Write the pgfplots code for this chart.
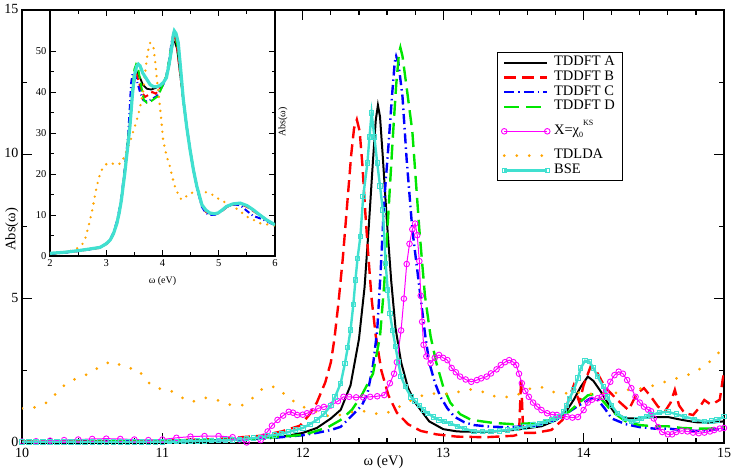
\documentclass[border=0pt]{standalone}
\usepackage{fontspec}
\setmainfont{Liberation Serif}
\usepackage{pgfplots}
\pgfplotsset{compat=1.18}
\definecolor{xred}{RGB}{255,0,0}
\definecolor{xblue}{RGB}{0,0,255}
\definecolor{xgreen}{RGB}{0,230,0}
\definecolor{xmag}{RGB}{255,0,255}
\definecolor{xorange}{RGB}{255,165,0}
\definecolor{xturq}{RGB}{64,224,208}
\begin{document}
\begin{tikzpicture}
\useasboundingbox (-22pt,-25pt) rectangle (711pt,443pt);
\begin{axis}[
 at={(0pt,0pt)}, anchor=south west,
 scale only axis, width=702pt, height=433pt,
 xmin=10, xmax=15, ymin=0, ymax=15,
 xtick={10,...,15}, ytick={0,5,10,15},
 minor x tick num=4, minor y tick num=1,
 tick align=inside, xtick pos=both, ytick pos=both,
 major tick length=10pt, minor tick length=5pt,
 axis line style={line width=1.6pt},
 tick style={line width=1.2pt,black},
 /pgf/number format/assume math mode=true,
 tick label style={font=\fontsize{14}{14}\selectfont},
 xticklabel style={yshift=-2pt},
 yticklabel style={yshift=1pt},
 xlabel={ω (eV)}, ylabel={Abs(ω)},
 label style={font=\fontsize{14.5}{14.5}\selectfont},
 xlabel style={at={(axis description cs:0.515,0)}, anchor=north, yshift=-9pt},
 ylabel style={at={(axis description cs:0,0.503)}, anchor=south, xshift=-4pt},
 legend style={at={(axis description cs:0.6766,0.903)}, anchor=north west, draw=black, line width=1pt, fill=white,
   font=\fontsize{14.5}{14.5}\selectfont, inner xsep=4pt, inner ysep=3pt, row sep=0pt,
   nodes={inner ysep=0pt, inner xsep=4pt, text height=10.3pt, text depth=4.4pt}},
 legend cell align=left,
 legend image code/.code={\draw[mark repeat=1,mark phase=1,#1] plot coordinates {(0pt,0pt) (43pt,0pt)};},
]
\addplot[black, line width=2pt] coordinates {(10.0,0.04)(10.5,0.05)(11.0,0.07)(11.4,0.10)(11.7,0.16)(11.9,0.26)(12.0,0.35)(12.1,0.52)(12.2,0.85)(12.27,1.15)(12.34,2.0)(12.4,3.6)(12.44,5.4)(12.47,7.5)(12.5,9.8)(12.52,11.2)(12.535,11.7)(12.55,11.3)(12.57,9.9)(12.6,7.6)(12.63,5.6)(12.66,4.0)(12.7,2.8)(12.75,1.9)(12.8,1.4)(12.9,0.75)(13.0,0.48)(13.1,0.4)(13.3,0.38)(13.5,0.45)(13.7,0.58)(13.8,0.78)(13.87,1.05)(13.93,1.5)(13.98,1.95)(14.03,2.3)(14.07,2.15)(14.12,1.8)(14.17,1.4)(14.22,1.05)(14.3,0.85)(14.4,0.85)(14.5,0.9)(14.6,0.9)(14.7,0.8)(14.8,0.72)(14.9,0.7)(15.0,0.75)};
\addlegendentry{TDDFT A}
\addplot[xred, line width=2.4pt, dash pattern=on 12pt off 6pt] coordinates {(10.0,0.05)(10.5,0.06)(11.0,0.08)(11.4,0.14)(11.7,0.25)(11.85,0.4)(11.98,0.6)(12.05,1.0)(12.1,1.4)(12.16,2.1)(12.2,2.8)(12.225,3.6)(12.255,4.9)(12.285,6.4)(12.305,7.6)(12.325,8.8)(12.345,10.0)(12.365,10.9)(12.385,11.2)(12.405,10.8)(12.425,9.6)(12.445,8.0)(12.465,6.6)(12.49,5.0)(12.52,3.7)(12.56,2.5)(12.61,1.65)(12.67,1.05)(12.75,0.65)(12.84,0.42)(12.95,0.3)(13.1,0.22)(13.3,0.2)(13.5,0.25)(13.54,0.3)(13.555,2.25)(13.57,0.35)(13.65,0.35)(13.77,0.45)(13.85,0.8)(13.9,1.6)(13.93,2.0)(13.97,1.4)(14.0,2.0)(14.05,2.65)(14.09,2.5)(14.15,1.95)(14.24,1.49)(14.32,1.14)(14.38,1.72)(14.43,1.9)(14.48,1.6)(14.53,1.26)(14.58,1.1)(14.62,1.4)(14.65,1.84)(14.68,1.3)(14.72,1.03)(14.78,0.97)(14.82,1.2)(14.86,1.49)(14.9,1.35)(14.93,1.38)(14.97,1.5)(14.99,2.18)(15.0,2.4)};
\addlegendentry{TDDFT B}
\addplot[xblue, line width=2.4pt, dash pattern=on 10pt off 4pt on 1.5pt off 4pt] coordinates {(10.0,0.03)(10.5,0.04)(11.0,0.06)(11.5,0.1)(11.8,0.18)(12.0,0.27)(12.1,0.35)(12.2,0.45)(12.27,0.56)(12.36,1.0)(12.42,1.3)(12.46,1.7)(12.5,2.7)(12.53,3.9)(12.555,6.0)(12.58,8.4)(12.61,10.3)(12.635,12.0)(12.655,13.2)(12.665,13.4)(12.68,13.2)(12.71,12.0)(12.74,9.8)(12.78,7.4)(12.81,6.2)(12.84,5.0)(12.87,3.8)(12.9,2.8)(12.94,2.1)(12.98,1.6)(13.03,1.2)(13.08,0.91)(13.15,0.72)(13.22,0.62)(13.35,0.56)(13.46,0.55)(13.6,0.58)(13.69,0.62)(13.8,0.8)(13.88,1.03)(13.95,1.25)(14.0,1.4)(14.05,1.55)(14.1,1.5)(14.15,1.2)(14.2,0.85)(14.3,0.65)(14.4,0.55)(14.5,0.5)(14.6,0.5)(14.7,0.45)(14.8,0.42)(14.9,0.45)(15.0,0.5)};
\addlegendentry{TDDFT C}
\addplot[xgreen, line width=2.4pt, dash pattern=on 15pt off 7pt] coordinates {(10.0,0.04)(10.5,0.05)(11.0,0.07)(11.5,0.11)(11.8,0.2)(12.0,0.28)(12.08,0.39)(12.18,0.55)(12.27,0.8)(12.35,1.15)(12.42,1.66)(12.5,2.4)(12.55,3.7)(12.58,5.5)(12.61,8.0)(12.64,10.5)(12.665,12.4)(12.685,13.5)(12.695,13.7)(12.71,13.4)(12.74,12.3)(12.78,10.8)(12.83,7.4)(12.87,5.1)(12.91,3.7)(12.95,2.8)(13.0,1.95)(13.05,1.4)(13.12,1.0)(13.2,0.8)(13.35,0.7)(13.5,0.65)(13.69,0.7)(13.8,0.85)(13.9,1.1)(13.97,1.4)(14.03,1.65)(14.08,1.7)(14.13,1.5)(14.2,1.1)(14.3,0.75)(14.4,0.62)(14.5,0.58)(14.6,0.58)(14.7,0.52)(14.8,0.5)(14.9,0.5)(15.0,0.55)};
\addlegendentry{TDDFT D}
\addplot[xmag, line width=1pt, mark=o, mark size=2.8pt, mark options={solid, line width=0.9pt}] coordinates {(10.0,0.05)(10.1,0.06)(10.2,0.08)(10.3,0.1)(10.4,0.12)(10.5,0.14)(10.6,0.15)(10.7,0.14)(10.8,0.12)(10.9,0.1)(11.0,0.12)(11.1,0.18)(11.2,0.22)(11.3,0.24)(11.4,0.24)(11.5,0.2)(11.55,0.12)(11.6,0.02)(11.65,-0.07)(11.68,-0.05)(11.7,0.1)(11.72,0.22)(11.75,0.4)(11.78,0.6)(11.82,0.8)(11.86,0.95)(11.9,1.08)(11.93,1.05)(11.96,0.97)(12.0,0.98)(12.03,1.03)(12.07,1.1)(12.11,1.2)(12.15,1.25)(12.2,1.3)(12.25,1.45)(12.29,1.6)(12.33,1.6)(12.38,1.58)(12.43,1.58)(12.48,1.6)(12.53,1.62)(12.58,1.66)(12.62,2.07)(12.65,2.4)(12.67,2.8)(12.7,3.9)(12.72,5.0)(12.74,6.2)(12.76,6.9)(12.78,7.4)(12.8,7.6)(12.815,7.2)(12.83,6.3)(12.84,5.1)(12.85,4.2)(12.86,3.4)(12.88,3.0)(12.91,2.76)(12.94,2.95)(12.97,3.05)(13.0,2.95)(13.03,2.87)(13.06,2.6)(13.09,2.45)(13.12,2.3)(13.16,2.2)(13.2,2.12)(13.24,2.18)(13.27,2.24)(13.31,2.3)(13.34,2.41)(13.38,2.55)(13.41,2.7)(13.44,2.8)(13.47,2.87)(13.5,2.8)(13.52,2.7)(13.54,2.4)(13.56,2.07)(13.585,1.8)(13.61,1.6)(13.64,1.4)(13.67,1.26)(13.7,1.14)(13.74,1.03)(13.78,0.98)(13.81,0.97)(13.85,0.93)(13.88,0.91)(13.92,0.88)(13.96,0.9)(14.0,1.14)(14.03,1.4)(14.06,1.5)(14.1,1.55)(14.13,1.6)(14.16,1.8)(14.19,2.12)(14.22,2.35)(14.25,2.47)(14.28,2.4)(14.31,2.18)(14.34,1.9)(14.37,1.6)(14.4,1.4)(14.43,1.26)(14.46,1.15)(14.48,1.1)(14.5,0.85)(14.53,0.55)(14.56,0.38)(14.6,0.3)(14.63,0.3)(14.66,0.38)(14.7,0.42)(14.74,0.4)(14.78,0.36)(14.82,0.34)(14.86,0.36)(14.9,0.4)(14.93,0.45)(14.97,0.5)(15.0,0.52)};
\addlegendentry[text height=20pt, text depth=14pt]{X=χ\raisebox{-3pt}{\footnotesize 0}\raisebox{8.5pt}{\footnotesize KS}}
\addplot[xorange, line width=3pt, line cap=round, dash pattern=on 0pt off 12.5pt] coordinates {(10.0,1.2)(10.1,1.24)(10.19,1.43)(10.25,1.76)(10.32,2.09)(10.41,2.28)(10.49,2.42)(10.57,2.72)(10.65,2.83)(10.73,2.62)(10.83,2.54)(10.88,2.18)(10.95,1.9)(11.05,1.84)(11.13,1.59)(11.21,1.42)(11.3,1.57)(11.39,1.49)(11.48,1.33)(11.57,1.31)(11.65,1.58)(11.72,1.92)(11.8,1.95)(11.88,1.65)(11.96,1.35)(12.05,1.15)(12.2,0.91)(12.3,1.0)(12.4,1.14)(12.48,1.05)(12.56,0.99)(12.64,1.11)(12.72,1.35)(12.8,1.55)(12.89,1.72)(12.98,1.7)(13.07,1.7)(13.16,1.86)(13.25,1.84)(13.34,1.64)(13.43,1.58)(13.52,1.64)(13.6,1.86)(13.69,1.95)(13.79,1.76)(13.88,1.72)(13.97,1.74)(14.06,1.7)(14.15,1.72)(14.24,1.74)(14.33,1.86)(14.42,1.89)(14.51,2.01)(14.6,2.15)(14.69,2.28)(14.78,2.42)(14.86,2.66)(14.93,2.95)(15.0,3.35)};
\addlegendentry{TDLDA}
\addplot[xturq, line width=2.4pt, mark=square, mark size=2.2pt, mark options={solid, line width=1pt}] coordinates {(10.0,0.03)(10.05,0.03)(10.1,0.03)(10.15,0.03)(10.2,0.03)(10.25,0.03)(10.3,0.03)(10.35,0.03)(10.4,0.03)(10.45,0.03)(10.5,0.03)(10.55,0.03)(10.6,0.03)(10.65,0.03)(10.7,0.03)(10.75,0.03)(10.8,0.03)(10.85,0.035)(10.9,0.035)(10.95,0.04)(11.0,0.04)(11.05,0.045)(11.1,0.05)(11.15,0.055)(11.2,0.06)(11.25,0.07)(11.3,0.075)(11.35,0.08)(11.4,0.09)(11.45,0.1)(11.5,0.11)(11.55,0.13)(11.6,0.15)(11.65,0.17)(11.7,0.2)(11.75,0.24)(11.8,0.28)(11.85,0.33)(11.9,0.38)(11.95,0.45)(12.0,0.52)(12.05,0.65)(12.1,0.8)(12.15,1.0)(12.2,1.3)(12.23,1.6)(12.27,2.07)(12.3,2.76)(12.32,3.3)(12.34,3.91)(12.36,4.8)(12.375,5.65)(12.39,6.4)(12.41,7.15)(12.43,8.53)(12.46,9.7)(12.475,10.6)(12.49,11.43)(12.51,10.6)(12.53,9.7)(12.55,8.9)(12.57,8.07)(12.59,6.22)(12.605,5.3)(12.62,4.49)(12.64,3.9)(12.66,3.34)(12.68,2.8)(12.7,2.3)(12.73,1.95)(12.77,1.6)(12.8,1.45)(12.83,1.3)(12.86,1.15)(12.89,1.03)(12.93,0.9)(12.97,0.8)(13.01,0.74)(13.05,0.68)(13.1,0.58)(13.15,0.5)(13.22,0.4)(13.28,0.4)(13.34,0.4)(13.4,0.42)(13.46,0.45)(13.52,0.5)(13.58,0.55)(13.64,0.62)(13.69,0.68)(13.73,0.74)(13.77,0.8)(13.8,0.85)(13.83,0.91)(13.86,1.1)(13.88,1.3)(13.9,1.55)(13.93,1.84)(13.96,2.25)(13.98,2.6)(14.01,2.85)(14.04,2.82)(14.07,2.6)(14.1,2.3)(14.14,1.95)(14.17,1.6)(14.2,1.3)(14.24,1.03)(14.29,0.85)(14.34,0.74)(14.38,0.8)(14.41,0.85)(14.45,0.92)(14.48,0.97)(14.54,1.05)(14.6,1.08)(14.66,1.0)(14.72,0.91)(14.79,0.82)(14.86,0.74)(14.91,0.76)(14.95,0.8)(15.0,0.91)};
\addlegendentry{BSE}
\end{axis}
\begin{axis}[
 at={(28pt,187pt)}, anchor=south west,
 scale only axis, width=225pt, height=246pt,
 xmin=2, xmax=6, ymin=0, ymax=60,
 xtick={2,...,6}, ytick={0,10,...,50},
 minor x tick num=1, minor y tick num=1,
 tick align=inside, xtick pos=both, ytick pos=both,
 major tick length=6pt, minor tick length=3.5pt,
 axis background/.style={fill=white},
 axis line style={line width=1.2pt},
 tick style={line width=0.9pt,black},
 /pgf/number format/assume math mode=true,
 tick label style={font=\fontsize{10.5}{10.5}\selectfont},
 xlabel={ω (eV)}, ylabel={Abs(ω)},
 label style={font=\fontsize{10}{10}\selectfont},
 xlabel style={at={(axis description cs:0.5,0)}, anchor=north, yshift=-17pt},
 ylabel style={at={(axis description cs:1,0.512)}, anchor=north, xshift=8pt},
]
\addplot[black, line width=1.8pt] coordinates {(2.0,0.6)(2.25,0.9)(2.5,1.3)(2.7,1.7)(2.89,2.1)(3.0,3.0)(3.07,3.9)(3.13,5.5)(3.19,8.0)(3.23,10.5)(3.27,13.7)(3.3,17)(3.33,20.2)(3.36,24)(3.39,27.6)(3.42,31.5)(3.44,34.9)(3.46,38.2)(3.48,41.0)(3.51,43.5)(3.55,44.7)(3.6,43.5)(3.65,41.8)(3.72,40.8)(3.8,40.6)(3.88,41.0)(3.96,41.7)(4.02,42.3)(4.07,43.6)(4.12,46.5)(4.16,50.0)(4.19,52.4)(4.22,52.2)(4.26,50.5)(4.3,46.0)(4.37,38.0)(4.43,31.5)(4.49,25.9)(4.55,21.0)(4.61,17.0)(4.66,14.5)(4.7,12.5)(4.77,11.0)(4.84,10.4)(4.92,10.2)(4.99,10.5)(5.07,11.2)(5.14,12.0)(5.25,12.6)(5.38,12.8)(5.5,12.2)(5.61,11.2)(5.73,10.0)(5.85,8.8)(6.0,7.6)};
\addplot[xred, line width=2pt, dash pattern=on 7pt off 4pt] coordinates {(2.0,0.5)(2.25,0.8)(2.5,1.2)(2.7,1.6)(2.89,2.0)(3.0,2.9)(3.07,3.8)(3.13,5.4)(3.19,7.9)(3.23,10.5)(3.27,13.8)(3.3,17.2)(3.33,20.5)(3.36,24.5)(3.39,28.2)(3.42,32.2)(3.44,35.5)(3.46,38.5)(3.48,41.5)(3.51,43.8)(3.54,44.3)(3.58,42.5)(3.63,40.0)(3.69,38.8)(3.75,39.3)(3.82,40.0)(3.88,39.6)(3.94,40.5)(4.0,42.0)(4.07,43.8)(4.12,47.2)(4.16,51.0)(4.19,53.5)(4.22,53.3)(4.26,51.0)(4.3,46.0)(4.37,38.0)(4.43,31.5)(4.49,25.9)(4.55,21.0)(4.61,17.0)(4.66,14.3)(4.7,12.3)(4.77,10.8)(4.84,10.2)(4.92,10.1)(4.99,10.4)(5.07,11.1)(5.14,11.9)(5.25,12.5)(5.38,12.7)(5.5,12.0)(5.61,11.0)(5.73,9.9)(5.85,8.7)(6.0,7.5)};
\addplot[xblue, line width=2pt, dash pattern=on 6pt off 3pt on 1pt off 3pt] coordinates {(2.0,0.5)(2.25,0.8)(2.5,1.2)(2.7,1.6)(2.89,2.1)(3.0,3.0)(3.07,4.0)(3.13,5.8)(3.19,8.5)(3.23,11.2)(3.27,14.5)(3.3,18.0)(3.33,21.5)(3.36,25.5)(3.39,29.5)(3.42,36.5)(3.44,42.0)(3.47,44.7)(3.51,44.0)(3.55,42.5)(3.6,40.0)(3.66,38.0)(3.72,37.7)(3.8,38.2)(3.9,39.0)(3.96,40.5)(4.02,42.0)(4.07,44.0)(4.12,48.0)(4.16,52.0)(4.2,54.5)(4.23,54.0)(4.27,51.5)(4.31,46.5)(4.37,38.2)(4.43,31.5)(4.49,25.9)(4.55,21.0)(4.61,16.8)(4.66,14.0)(4.7,12.0)(4.77,10.5)(4.84,10.0)(4.92,10.0)(4.99,10.4)(5.07,11.2)(5.14,12.0)(5.25,12.6)(5.38,12.4)(5.5,11.0)(5.61,9.8)(5.73,9.2)(5.85,8.5)(6.0,7.5)};
\addplot[xgreen, line width=2pt, dash pattern=on 9pt off 4pt] coordinates {(2.0,0.6)(2.25,0.9)(2.5,1.3)(2.7,1.7)(2.89,2.1)(3.0,3.0)(3.07,3.9)(3.13,5.6)(3.19,8.2)(3.23,10.8)(3.27,14.0)(3.3,17.4)(3.33,20.8)(3.36,24.8)(3.39,28.8)(3.42,32.5)(3.44,36.0)(3.47,41.5)(3.5,45.5)(3.53,46.7)(3.57,45.5)(3.62,41.5)(3.67,38.0)(3.72,37.4)(3.8,37.8)(3.92,39.0)(4.0,41.5)(4.07,44.0)(4.12,48.0)(4.16,51.5)(4.2,54.0)(4.23,53.6)(4.27,51.0)(4.31,46.0)(4.37,38.2)(4.43,31.5)(4.49,25.9)(4.55,21.0)(4.61,17.0)(4.66,14.5)(4.7,12.5)(4.77,11.2)(4.84,10.5)(4.92,10.3)(4.99,10.5)(5.07,11.3)(5.14,12.1)(5.25,12.7)(5.38,12.9)(5.5,12.3)(5.61,11.3)(5.73,10.0)(5.85,8.8)(6.0,7.6)};
\addplot[xorange, line width=2.6pt, line cap=round, dash pattern=on 0pt off 7pt] coordinates {(2.0,0.5)(2.2,0.8)(2.4,1.3)(2.5,2.0)(2.57,2.8)(2.62,3.9)(2.68,7.0)(2.74,10.4)(2.79,14.0)(2.83,17.0)(2.88,19.5)(2.92,21.0)(2.98,22.2)(3.04,22.7)(3.1,22.6)(3.16,22.3)(3.22,22.4)(3.27,22.7)(3.33,24.5)(3.39,26.7)(3.44,28.6)(3.48,30.4)(3.53,32.5)(3.57,34.5)(3.62,37.5)(3.66,40.6)(3.69,44.5)(3.72,48.0)(3.75,50.5)(3.78,52.0)(3.81,51.8)(3.84,50.8)(3.87,47.5)(3.9,43.1)(3.93,39.5)(3.96,35.7)(3.99,31.5)(4.01,28.4)(4.07,24.5)(4.13,21.9)(4.17,19.5)(4.22,17.0)(4.28,15.0)(4.34,13.7)(4.42,14.5)(4.49,15.3)(4.58,15.6)(4.67,15.7)(4.76,15.6)(4.84,15.3)(4.93,14.6)(5.02,13.7)(5.14,12.9)(5.26,12.1)(5.38,10.9)(5.5,9.6)(5.62,8.8)(5.73,8.0)(5.82,7.8)(5.91,7.6)(6.0,7.4)};
\addplot[xturq, line width=3.2pt] coordinates {(2.0,0.66)(2.25,0.9)(2.5,1.3)(2.7,1.7)(2.89,2.1)(3.0,3.0)(3.07,3.9)(3.13,5.5)(3.19,8.0)(3.23,10.5)(3.27,13.7)(3.3,17)(3.33,20.2)(3.36,24)(3.39,27.6)(3.42,31.5)(3.44,34.9)(3.46,38.5)(3.48,41.4)(3.51,44.5)(3.54,46.3)(3.57,46.8)(3.6,46.4)(3.65,44.6)(3.72,43.1)(3.78,41.8)(3.84,41.3)(3.9,41.3)(3.96,41.6)(4.02,42.4)(4.07,43.5)(4.12,47.0)(4.16,50.4)(4.19,53.8)(4.21,54.9)(4.24,54.3)(4.28,52.0)(4.32,46.0)(4.37,38.2)(4.43,31.5)(4.49,25.9)(4.55,21.0)(4.61,17.0)(4.66,14.5)(4.7,12.5)(4.77,11.2)(4.84,10.5)(4.92,10.3)(4.99,10.5)(5.07,11.3)(5.14,12.1)(5.25,12.7)(5.38,12.9)(5.5,12.3)(5.61,11.3)(5.73,10.0)(5.85,8.8)(6.0,7.6)};
\end{axis}
\end{tikzpicture}
\end{document}
